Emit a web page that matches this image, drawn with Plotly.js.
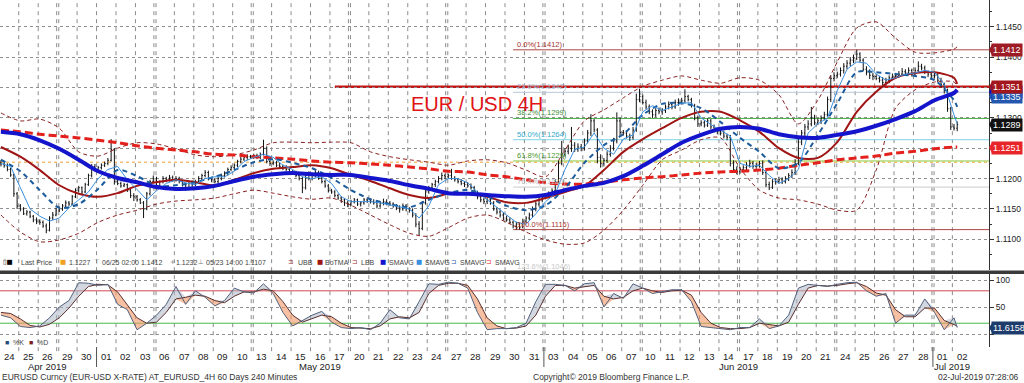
<!DOCTYPE html>
<html><head><meta charset="utf-8">
<script src="https://cdn.plot.ly/plotly-3.0.1.min.js"></script>
<style>html,body{margin:0;padding:0;background:#fff;}#chart{width:1024px;height:383px;}</style>
</head><body><div id="chart"></div>
<script>
// ---------- DATA ----------
const tradingDays = ['2019-04-24','2019-04-25','2019-04-26','2019-04-29','2019-04-30',
'2019-05-01','2019-05-02','2019-05-03','2019-05-06','2019-05-07','2019-05-08','2019-05-09','2019-05-10','2019-05-13','2019-05-14','2019-05-15','2019-05-16','2019-05-17','2019-05-20','2019-05-21','2019-05-22','2019-05-23','2019-05-24','2019-05-27','2019-05-28','2019-05-29','2019-05-30','2019-05-31',
'2019-06-03','2019-06-04','2019-06-05','2019-06-06','2019-06-07','2019-06-10','2019-06-11','2019-06-12','2019-06-13','2019-06-14','2019-06-17','2019-06-18','2019-06-19','2019-06-20','2019-06-21','2019-06-24','2019-06-25','2019-06-26','2019-06-27','2019-06-28',
'2019-07-01','2019-07-02'];
const barsPerDay = 6;
// 4H bars, values in pips above 1.1000
const barOpen = [226,224,221,215,206,175,155,150,142,145,138,132,130,128,122,115,135,140,148,150,155,160,158,170,180,185,178,190,205,220,215,218,222,225,230,248,195,192,188,190,180,172,170,165,160,150,175,195,200,185,195,200,198,202,198,200,195,190,185,192,190,195,200,205,210,200,198,195,200,205,208,215,218,222,228,232,235,236,236,238,235,240,250,228,225,226,222,220,218,215,210,210,205,200,185,205,200,205,210,200,195,188,180,178,172,168,165,160,158,162,165,158,160,165,163,162,160,155,160,162,160,158,155,152,150,155,150,148,140,125,118,160,178,185,190,195,200,205,203,205,200,198,195,192,190,188,185,175,170,165,162,165,160,150,145,140,135,132,128,122,125,120,130,135,140,150,158,165,170,172,175,180,195,225,240,245,250,255,248,252,250,262,275,295,280,235,225,230,240,250,262,295,276,275,270,268,280,330,335,325,318,310,305,312,310,312,318,322,318,325,326,328,335,330,320,300,290,292,288,295,285,280,278,275,270,268,225,215,212,215,218,222,225,220,222,225,210,190,185,195,195,198,195,200,205,210,225,260,275,285,290,300,292,295,300,305,330,365,370,372,378,385,390,395,398,405,395,380,375,370,368,365,362,358,362,366,368,370,372,376,374,378,372,378,385,382,375,372,370,370,362,355,345,315,285,283];
const barHigh = [230,228,225,218,208,178,158,153,148,147,140,136,133,131,126,138,145,152,154,158,164,163,173,184,188,187,193,208,224,224,221,225,228,234,265,250,198,195,193,192,183,176,173,168,163,178,198,205,203,197,204,203,206,205,204,203,198,193,196,197,198,204,208,214,213,203,201,203,208,212,218,222,225,231,236,240,240,239,241,241,243,264,253,232,230,229,226,223,222,219,214,213,208,203,210,212,208,214,213,203,198,191,183,181,175,171,168,164,165,168,167,163,168,169,167,166,163,163,167,166,163,161,158,156,159,158,153,151,143,130,163,183,188,193,198,204,210,208,208,216,204,201,199,196,194,192,188,180,174,169,168,168,163,153,149,144,139,136,131,129,128,134,138,144,154,162,170,175,176,179,184,199,230,262,250,256,285,260,258,257,266,280,306,298,283,240,234,245,255,267,309,300,280,279,274,285,340,348,338,330,322,314,316,317,316,322,327,325,330,332,333,347,338,333,323,304,296,296,299,298,289,284,282,279,274,272,230,220,219,222,227,231,229,226,229,230,213,195,199,200,203,202,204,209,215,232,265,280,290,296,318,305,299,304,310,335,370,375,376,383,390,395,400,404,412,408,398,385,380,374,372,369,367,366,370,373,374,377,382,380,383,381,383,393,389,386,378,376,376,374,366,358,348,318,290,294];
const barLow = [220,218,212,203,170,150,146,140,139,135,128,125,124,119,110,113,132,138,145,147,152,155,156,168,177,174,176,188,202,212,212,215,219,222,228,190,189,185,186,178,168,163,162,158,135,148,172,192,182,183,192,194,195,195,195,192,187,180,182,186,187,192,196,202,197,194,192,192,197,202,205,212,215,219,225,229,231,233,233,232,232,238,225,221,222,219,217,214,212,206,206,202,197,176,182,197,197,202,198,192,185,177,175,169,165,160,155,153,155,159,155,154,157,160,159,157,151,152,156,156,155,152,148,144,147,146,144,136,120,107,115,157,175,181,186,192,197,199,200,198,195,192,189,186,185,182,172,166,161,158,158,157,147,141,136,131,129,125,118,116,116,118,127,131,136,146,154,161,166,168,171,177,192,222,236,240,244,244,244,245,246,258,270,276,225,218,220,226,236,246,258,270,271,266,262,264,277,326,322,314,306,300,301,306,305,308,314,314,315,320,322,324,327,317,296,285,286,284,285,281,276,273,271,266,263,220,210,207,208,211,214,218,216,216,218,206,186,181,183,190,192,191,192,196,201,206,222,255,270,280,286,288,288,290,296,302,326,360,366,368,373,380,385,390,395,392,377,370,364,362,362,358,354,353,357,362,364,366,369,370,370,368,368,374,378,372,367,365,365,358,350,340,310,280,279,278];
const barClose = [224,221,215,206,175,155,150,142,145,138,132,130,128,122,115,135,140,148,150,155,160,158,170,180,185,178,190,205,220,215,218,222,225,230,248,195,192,188,190,180,172,170,165,160,150,175,195,200,185,195,200,198,202,198,200,195,190,185,192,190,195,200,205,210,200,198,195,200,205,208,215,218,222,228,232,235,236,236,238,235,240,250,228,225,226,222,220,218,215,210,210,205,200,185,205,200,205,210,200,195,188,180,178,172,168,165,160,158,162,165,158,160,165,163,162,160,155,160,162,160,158,155,152,150,155,150,148,140,125,118,160,178,185,190,195,200,205,203,205,200,198,195,192,190,188,185,175,170,165,162,165,160,150,145,140,135,132,128,122,125,120,130,135,140,150,158,165,170,172,175,180,195,225,240,245,250,255,248,252,250,262,275,295,280,235,225,230,240,250,262,295,276,275,270,268,280,330,335,325,318,310,305,312,310,312,318,322,318,325,326,328,335,330,320,300,290,292,288,295,285,280,278,275,270,268,225,215,212,215,218,222,225,220,222,225,210,190,185,195,195,198,195,200,205,210,225,260,275,285,290,300,292,295,300,305,330,365,370,372,378,385,390,395,398,405,395,380,375,370,368,365,362,358,362,366,368,370,372,376,374,378,372,378,385,382,375,372,370,370,362,355,345,315,285,283,289];
// indicators, one reading per day (pips above 1.1000)
const smaBlue   = [277,273,263,249,231,212,201,194,186,183,184,188,196,203,207,209,207,206,206,201,196,189,183,176,175,173,171,170,173,181,188,193,204,221,240,259,272,282,285,282,273,268,267,272,278,287,298,311,329,341,346];
const smaRedDash= [280,277,273,270,267,263,259,254,250,247,244,240,239,236,234,232,229,227,226,224,222,219,216,212,211,206,203,198,193,191,191,194,198,201,203,206,209,211,212,214,217,222,226,231,234,237,242,245,249,252,252];
const boTMA     = [252,236,214,189,175,170,176,188,194,198,194,189,198,209,216,219,222,217,206,196,184,173,168,175,176,170,161,160,168,178,188,214,244,265,283,300,310,310,296,277,250,234,234,260,310,343,366,374,375,366,356];
const smaBlueDash=[231,212,181,152,158,183,214,204,188,189,194,203,214,227,232,226,217,201,181,166,158,153,165,176,181,171,155,148,156,184,226,255,273,305,323,324,316,293,267,244,217,226,272,324,375,375,372,369,362,329,318];
const upperBB   = [308,295,298,283,244,237,250,259,257,249,239,236,239,247,259,260,259,260,259,244,236,231,227,222,229,231,226,214,203,247,295,313,333,352,362,369,362,357,366,362,338,290,329,392,448,458,431,408,407,413,417];
const lowerBB   = [140,112,96,99,110,128,140,148,158,163,165,168,175,181,176,170,166,168,156,140,124,110,105,119,135,140,128,112,99,92,94,115,148,189,231,247,264,267,217,181,168,165,158,148,148,214,316,346,359,359,351];
// readings twice a day
const smaLightBlue = [225,220,185,150,138,130,135,152,165,178,200,215,220,198,182,165,180,192,198,193,190,200,203,203,212,228,235,240,235,222,215,203,200,203,192,170,162,162,162,160,157,153,150,135,155,190,200,200,193,178,165,152,140,128,125,142,162,175,215,248,252,275,250,240,265,272,310,320,312,318,324,325,300,289,280,270,225,220,222,205,192,200,215,275,290,300,345,380,392,390,372,362,366,372,374,378,375,355,305,290];
const stochK = [35,30,14,12,15,30,50,62,95,94,90,92,55,45,8,20,35,55,88,55,80,68,52,62,85,78,76,93,75,40,15,25,35,42,22,12,10,12,8,20,45,30,28,60,93,92,96,94,85,40,8,10,10,12,20,60,92,92,90,80,93,95,50,75,66,93,85,75,78,82,82,60,14,12,10,8,12,12,28,10,15,35,85,92,90,88,92,95,96,80,70,75,20,35,35,65,40,8,30,12];
const stochD = [40,38,28,16,13,18,30,48,70,88,92,91,78,55,30,20,22,40,65,68,72,70,62,58,70,78,78,83,80,60,35,22,28,35,32,20,12,11,10,15,28,32,30,40,75,90,94,94,90,65,30,15,10,11,15,35,70,90,90,85,88,90,70,65,68,80,85,80,77,80,81,72,40,20,12,10,10,12,20,18,15,22,55,85,90,89,90,93,95,88,76,72,45,32,32,48,48,25,18,15];
const stochLast = 11.6158;
// levels
const fibNames  = ['0.0%','23.6%','38.2%','50.0%','61.8%','76.4%','100.0%','123.6%'];
const fibLevels = [1.1412,1.1342,1.1299,1.1264,1.1229,1.1186,1.1116,1.1046];
const fibStartBar = 158;
const resistance = 1.1351, resistanceStartBar = 103;
const avgLevel = 1.1227;
const tagValues = [1.1412, 1.1343, 1.1335, 1.1351, 1.1289, 1.1251];
const priceTicks = [1.1100,1.1150,1.1200,1.1250,1.1300,1.1350,1.1400,1.1450];
const legendTexts = ['Last Price','1.1227','06/25 02:00 1.1412','1.1232','05/23 14:00 1.1107','UBB','BoTMA','LBB','SMAVG','SMAVG','SMAVG','SMAVG'];

// ---------- BUILD ----------
const P = v => +(1.1 + v/10000).toFixed(4);
const nBars = barClose.length;
const bx = barClose.map((_,i)=>i);
const dayX = smaBlue.map((_,i)=>Math.min(i*barsPerDay, nBars-1));
const halfX = stochK.map((_,i)=>Math.min(i*barsPerDay/2, nBars-1));
const XR = [-0.28, 304.8];
const PLOTW = 989, PLOTH = 347;
const pxX = p => p/PLOTW;
const pxY = p => (PLOTH - p)/PLOTH;

const traces = [];
const line = (x, y, color, width, dash, yaxis, shape) => ({type:'scatter', mode:'lines', x, y, yaxis: yaxis||'y', xaxis:'x',
  line:{color, width, dash: dash||'solid', shape: shape||'spline', smoothing:0.8}, hoverinfo:'skip'});

traces.push(line(dayX, upperBB.map(P), '#8b2222', 1, '4px,3px'));
traces.push(line(dayX, lowerBB.map(P), '#8b2222', 1, '4px,3px'));
traces.push(line(dayX, boTMA.map(P), '#a01414', 2));
traces.push(line(dayX, smaRedDash.map(P), '#e3201c', 3, '8px,4px'));
traces.push(line(dayX, smaBlueDash.map(P), '#1d5c9c', 2, '5px,4px'));
traces.push(line(halfX, smaLightBlue.map(P), '#3a90e0', 1, 'solid', 'y', 'linear'));
traces.push({type:'ohlc', x: bx, open: barOpen.map(P), high: barHigh.map(P), low: barLow.map(P), close: barClose.map(P),
  increasing:{line:{color:'#111', width:1}}, decreasing:{line:{color:'#111', width:1}}, tickwidth:0.3, hoverinfo:'skip', xaxis:'x', yaxis:'y'});
traces.push(line(dayX, smaBlue.map(P), '#1414cc', 4));

const kHi = stochK.map((k,i)=>Math.max(k, stochD[i]));
const kLo = stochK.map((k,i)=>Math.min(k, stochD[i]));
traces.push({type:'scatter', mode:'lines', x:halfX, y:stochD, yaxis:'y2', line:{width:0}, hoverinfo:'skip'});
traces.push({type:'scatter', mode:'lines', x:halfX, y:kHi, yaxis:'y2', line:{width:0}, fill:'tonexty', fillcolor:'rgba(175,182,196,0.55)', hoverinfo:'skip'});
traces.push({type:'scatter', mode:'lines', x:halfX, y:stochD, yaxis:'y2', line:{width:0}, hoverinfo:'skip'});
traces.push({type:'scatter', mode:'lines', x:halfX, y:kLo, yaxis:'y2', line:{width:0}, fill:'tonexty', fillcolor:'rgba(244,150,100,0.6)', hoverinfo:'skip'});
traces.push(line(halfX, stochD, '#5a3030', 1, 'solid', 'y2', 'linear'));
traces.push(line(halfX, stochK, '#51627e', 1, 'solid', 'y2', 'linear'));

const shapes = [];
tradingDays.forEach((ds, d) => {
  if (d === 0) return;
  const xb = d*barsPerDay - 0.5;
  const mon = new Date(ds+'T00:00:00Z').getUTCDay() === 1;
  (mon ? [xb-0.3, xb+0.35] : [xb]).forEach(x => shapes.push({type:'line', layer:'below', xref:'x', yref:'paper', x0:x, x1:x, y0:-0.012, y1:1,
    line:{color:'#8c8c8c', width:1, dash:'4px,4px'}}));
});
const monNames = ['Jan','Feb','Mar','Apr','May','Jun','Jul','Aug','Sep','Oct','Nov','Dec'];
const months = [];
tradingDays.forEach((ds,d)=>{
  const m = ds.slice(0,7);
  if (!months.length || months[months.length-1].key !== m) months.push({key:m, first:d, last:d});
  else months[months.length-1].last = d;
});
months.forEach((m,i)=>{ if (i>0) { const x = m.first*barsPerDay - 0.5;
  shapes.push({type:'line', xref:'x', yref:'paper', x0:x, x1:x, y0:pxY(347), y1:pxY(367), line:{color:'#555', width:1}}); }});
shapes.push({type:'line', layer:'below', xref:'x', yref:'y', x0:XR[0], x1:XR[1], y0:avgLevel, y1:avgLevel, line:{color:'#f0a030', width:1, dash:'dot'}});
const fibLine = ['#b04545','#b8c8dc','#45b045','#7fd4e6','#8cc83c','#cccccc','#b04545','#cccccc'];
const fibText = ['#a83232','#a9bcd0','#3b8c3b','#33aacc','#4a9a30','#bdbdbd','#a83232','#c8c8c8'];
fibLevels.forEach((v,i)=> shapes.push({type:'line', layer:'below', xref:'x', yref:'y', x0:fibStartBar, x1:XR[1], y0:v, y1:v, line:{color:fibLine[i], width:1}}));
shapes.push({type:'line', layer:'below', xref:'x', yref:'y', x0:resistanceStartBar, x1:XR[1], y0:resistance, y1:resistance, line:{color:'#c41616', width:2.5}});
[[80,'#d04a55'],[20,'#4cb84c']].forEach(([v,c])=>shapes.push({type:'line', layer:'below', xref:'x', yref:'y2', x0:XR[0], x1:XR[1], y0:v, y1:v, line:{color:c, width:1}}));
shapes.push({type:'line', xref:'paper', yref:'paper', x0:0, x1:1024/PLOTW, y0:pxY(272.3), y1:pxY(272.3), line:{color:'#3a3a3a', width:3.5}});

const annotations = [];
fibLevels.forEach((v,i)=> annotations.push({xref:'x', yref:'paper', x:fibStartBar+0.5,
  y: pxY(239.3 - (v-1.11)*6074), xanchor:'left', yanchor:'bottom', yshift:-1, showarrow:false,
  text: fibNames[i]+'('+v.toFixed(4)+')', font:{family:'Liberation Sans', size:7.5, color:fibText[i]}}));
annotations.push({xref:'paper', yref:'paper', x:pxX(409), y:pxY(104), xanchor:'left', yanchor:'middle', showarrow:false,
  text:'EUR / USD 4H', font:{family:'Liberation Sans', size:20, color:'#e01414'}});
const tagColors = ['#9c1b24','#0a0ac8','#2458b0','#a3161c','#111111','#e8262a'];
tagValues.forEach((v,i)=>{
  annotations.push({xref:'paper', yref:'y', x:1, xshift:2, y:v, xanchor:'left', yanchor:'middle', showarrow:false,
    text:v.toFixed(4), bgcolor:tagColors[i], borderpad:1, font:{family:'Liberation Sans', size:9, color:'#fff'}});
  shapes.push({type:'path', xref:'paper', yref:'y', path:`M 1 ${v} L ${1+3/PLOTW} ${v+0.0009} L ${1+3/PLOTW} ${v-0.0009} Z`, fillcolor:tagColors[i], line:{width:0}});
});
annotations.push({xref:'paper', yref:'y2', x:1, xshift:2, y:stochLast, xanchor:'left', yanchor:'middle', showarrow:false,
  text:stochLast.toFixed(4), bgcolor:'#1d3c6b', borderpad:1, font:{family:'Liberation Sans', size:9, color:'#fff'}});
shapes.push({type:'path', xref:'paper', yref:'y2', path:`M 1 ${stochLast} L ${1+3/PLOTW} ${stochLast+9} L ${1+3/PLOTW} ${stochLast-9} Z`, fillcolor:'#1d3c6b', line:{width:0}});
// day labels (placed on the x scale)
tradingDays.forEach((ds,d)=> annotations.push({xref:'x', yref:'paper', x:d*barsPerDay+2.5, y:pxY(356.5), xanchor:'center', yanchor:'middle', showarrow:false,
  text: ds.slice(8,10), font:{family:'Liberation Sans', size:9.5, color:'#222'}}));
months.forEach(m=>{
  const d = new Date(m.key+'-01T00:00:00Z');
  annotations.push({xref:'x', yref:'paper', x:(m.first*barsPerDay + (m.last+1)*barsPerDay)/2 - 0.5, y:pxY(367), xanchor:'center', yanchor:'middle', showarrow:false,
    text: monNames[d.getUTCMonth()]+' '+d.getUTCFullYear(), font:{family:'Liberation Sans', size:9.5, color:'#222'}});
});
const legSym = [['▯■','#000'],['■','#f0a020'],['⊤','#777'],['+','#777'],['⊥','#777'],['⊐','#9a2a2a'],['■','#a01414'],['⊐','#9a2a2a'],['■','#1414cc'],['■','#3a90e0'],['⊐','#1d5c9c'],['⊐','#e3201c']];
const legSymX = [1,58,92,168,196,286,315,350,378,414,449,484];
const legTxtX = [19,67,100,174,204,296,323,359,387,423,458,493];
legendTexts.forEach((t,i)=>{
  annotations.push({xref:'paper', yref:'paper', x:pxX(legSymX[i]), y:pxY(262), xanchor:'left', yanchor:'middle', showarrow:false,
    text: legSym[i][0], font:{family:'DejaVu Sans', size:6.5, color:legSym[i][1]}});
  annotations.push({xref:'paper', yref:'paper', x:pxX(legTxtX[i]), y:pxY(262), xanchor:'left', yanchor:'middle', showarrow:false,
    text: t, font:{family:'Liberation Sans', size:7, color:'#444'}});
});
[['■','#1f4e79',3],['%K','#444',11],['■','#7b1f1f',27],['%D','#444',35]].forEach(([t,c,x])=>annotations.push({xref:'paper', yref:'paper', x:pxX(x), y:pxY(342), xanchor:'left', yanchor:'middle', showarrow:false, text:t, font:{family:'Liberation Sans', size:7, color:c}}));
annotations.push({xref:'paper', yref:'paper', x:0, y:pxY(377), xanchor:'left', yanchor:'middle', showarrow:false, text:'EURUSD Curncy (EUR-USD X-RATE) AT_EURUSD_4H 60 Days 240 Minutes', font:{family:'Liberation Sans', size:8.5, color:'#333'}});
annotations.push({xref:'paper', yref:'paper', x:pxX(531), y:pxY(377), xanchor:'left', yanchor:'middle', showarrow:false, text:'Copyright© 2019 Bloomberg Finance L.P.', font:{family:'Liberation Sans', size:8.5, color:'#333'}});
annotations.push({xref:'paper', yref:'paper', x:pxX(1021), y:pxY(377), xanchor:'right', yanchor:'middle', showarrow:false, text:'02-Jul-2019 07:28:06', font:{family:'Liberation Sans', size:8.5, color:'#333'}});

const coveredTicks = [1.1250, 1.1350];
const layout = {
  width:1024, height:383, margin:{l:0, r:35, t:0, b:36, pad:0},
  paper_bgcolor:'#fff', plot_bgcolor:'#fff', showlegend:false, hovermode:false,
  xaxis:{domain:[0,1], range:XR, anchor:'y2', showticklabels:false, ticks:'', showgrid:false, zeroline:false, showline:false,
    rangeslider:{visible:false}, fixedrange:true},
  yaxis:{domain:[pxY(270),1], range:[1.10495,1.1494], side:'right', anchor:'x', tickmode:'array',
    tickvals: priceTicks, ticktext: priceTicks.map(v=>coveredTicks.includes(v) ? '' : v.toFixed(4)),
    ticks:'outside', ticklen:4, tickcolor:'#333', showline:true, linecolor:'#333', linewidth:1,
    showgrid:true, gridcolor:'#8f8f8f', griddash:'dot', gridwidth:1, zeroline:false,
    minor:{tickmode:'linear', tick0:1.1125, dtick:0.005, ticks:'outside', ticklen:2, tickcolor:'#333', showgrid:false},
    tickfont:{family:'Liberation Sans', size:8.5, color:'#222'}, fixedrange:true},
  yaxis2:{domain:[0,pxY(273)], range:[-24,113], side:'right', anchor:'x', tickmode:'array', tickvals:[0,50,100], ticktext:['','50','100'],
    ticks:'outside', ticklen:4, tickcolor:'#333', showline:true, linecolor:'#333', linewidth:1,
    showgrid:true, gridcolor:'#8f8f8f', griddash:'dot', gridwidth:1, zeroline:false,
    tickfont:{family:'Liberation Sans', size:8.5, color:'#222'}, fixedrange:true},
  shapes, annotations
};
Plotly.newPlot('chart', traces, layout, {staticPlot:true, displayModeBar:false});
</script>
</body></html>
